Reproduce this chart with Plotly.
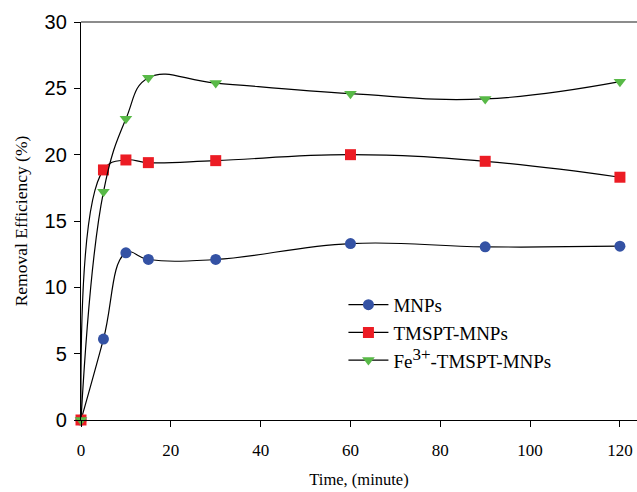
import plotly.graph_objects as go

time = [0, 5, 10, 15, 30, 60, 90, 120]
mnps = [0, 6.1, 12.6, 12.1, 12.1, 13.3, 13.05, 13.1]
tmspt = [0, 18.85, 19.6, 19.4, 19.55, 20.0, 19.5, 18.3]
fe_tmspt = [0, 17.2, 22.7, 25.8, 25.4, 24.6, 24.2, 25.5]

names = ["MNPs", "TMSPT-MNPs", "Fe<sup><span style='font-size:17px'>3+</span></sup>-TMSPT-MNPs"]
series = [mnps, tmspt, fe_tmspt]
colors = ["#3452a4", "#ec1c24", "#58b947"]
symbols = ["circle", "square", "triangle-down"]

fig = go.Figure()
for name, ys, c, s in zip(names, series, colors, symbols):
    fig.add_trace(go.Scatter(
        x=time, y=ys, name=name, mode="lines+markers",
        line=dict(color="black", width=1.2, shape="spline", smoothing=1.2),
        marker=dict(color=c, symbol=s, size=11, line=dict(width=0)),
        cliponaxis=False,
    ))

serif = "Liberation Serif, Times New Roman, serif"
fig.update_layout(
    width=637, height=492,
    margin=dict(l=81, r=0, t=22, b=72),
    paper_bgcolor="white", plot_bgcolor="white",
    showlegend=True,
    legend=dict(x=0.472, y=0.337, xanchor="left", yanchor="top",
                font=dict(family=serif, size=19, color="black"),
                bgcolor="rgba(0,0,0,0)", tracegroupgap=0, itemwidth=40),
    xaxis=dict(range=[0, 123.8], tickvals=[0, 20, 40, 60, 80, 100, 120],
               ticks="outside", ticklen=6, tickcolor="black",
               showline=True, linecolor="black", linewidth=1.3,
               showgrid=False, zeroline=False, ticklabelstandoff=8,
               tickfont=dict(family=serif, size=17, color="black"),
               title=dict(text="Time, (minute)", font=dict(family=serif, size=16.5, color="black"), standoff=14)),
    yaxis=dict(range=[0, 30], tickvals=[0, 5, 10, 15, 20, 25, 30],
               ticks="outside", ticklen=6, tickcolor="black",
               showline=True, linecolor="black", linewidth=1.3,
               showgrid=False, zeroline=False, ticklabelstandoff=3,
               tickfont=dict(family="Liberation Sans, Arial, sans-serif", size=20, color="black"),
               title=dict(text="Removal Efficiency (%)", font=dict(family=serif, size=17.5, color="black"), standoff=12)),
)
fig.add_shape(type="line", xref="paper", yref="paper", x0=0, x1=1, y0=1, y1=1,
              line=dict(color="#666666", width=1.5))

fig.write_html("out.html")
